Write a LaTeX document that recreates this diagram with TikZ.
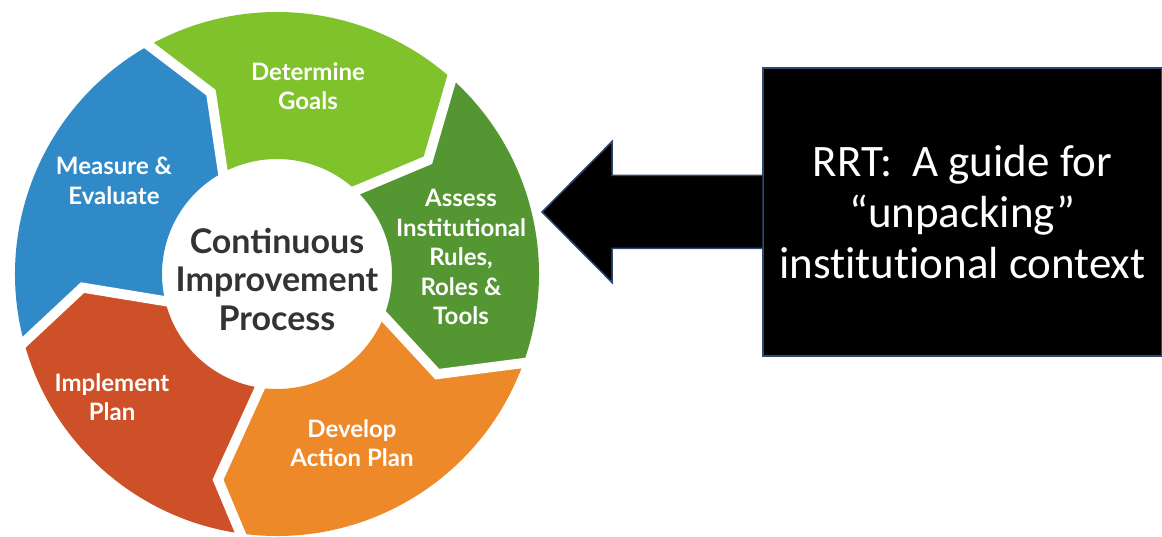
\documentclass[tikz,border=0pt]{standalone}
\usepackage{fontspec}
\setmainfont{Lato}
\newfontfamily\guidefont{Carlito}[Ligatures=NoCommon]
\usepackage{tikz}
\usetikzlibrary{positioning}

\definecolor{measblue}{HTML}{308AC8}
\definecolor{goalgreen}{HTML}{80C22B}
\definecolor{assessgreen}{HTML}{549632}
\definecolor{devorange}{HTML}{EE892A}
\definecolor{implred}{HTML}{CD5028}
\definecolor{hubgray}{HTML}{333333}
\definecolor{guideedge}{HTML}{2E4A6E}

\tikzset{
  gapline/.style={white, line width=10pt, miter limit=20},
  seglabel/.style={text=white, align=center, font=\bfseries\fontsize{24}{29.5}\selectfont},
  hublabel/.style={text=hubgray, align=center, font=\bfseries\fontsize{34}{38.5}\selectfont},
  guidebox/.style={fill=black, draw=guideedge, line width=1.5pt, text=white, align=center,
    minimum width=399pt, minimum height=288pt, inner sep=0pt,
    font=\guidefont\fontsize{45}{51}\selectfont},
  guidearrow/.style={fill=black, draw=guideedge, line width=1.5pt}
}

\begin{document}
\begin{tikzpicture}[x=1pt, y=1pt]
\fill[white] (0,0) rectangle (1162,536);
\useasboundingbox (0,0) rectangle (1162,536);

\begin{scope}[shift={(277,262)}]
% points of the chevrons between the arrows
\foreach \n/\v/\r in {1/184/195, 2/110/193, 3/37/189, 4/-32/189, 5/-106/214, 6/-176/195}
  \coordinate (v\n) at (\v:\r);
% the five arrows of the ring, clockwise
\foreach \i/\j/\a/\b/\col in {1/2/196/120/measblue, 2/3/120/49/goalgreen, 3/4/49/-19/assessgreen,
    4/5/-19/-97/devorange, 5/6/-97/-164/implred}{
  \fill[\col] (\a:262) arc[start angle=\a, end angle=\b, radius=262pt]
    -- (v\j) -- (\b:115) arc[start angle=\b, end angle=\a, radius=115pt]
    -- (v\i) -- cycle;
}
% white cuts between the arrows
\foreach \n/\t in {2/120, 3/49, 4/-19, 5/-97, 6/-164}
  \draw[gapline] (\t:270) -- (v\n) -- (\t:105);
\end{scope}

\node[seglabel] (goals) at (308,450) {Determine\\Goals};
\node[seglabel] (assess) at (461,279) {Assess\\Institutional\\Rules,\\Roles \&\\Tools};
\node[seglabel] (develop) at (352,93) {Develop\\Action Plan};
\node[seglabel] (implement) at (112,139) {Implement\\Plan};
\node[seglabel] (measure) at (114,355) {Measure \&\\Evaluate};
\node[hublabel] (hub) at (277,257) {Continuous\\Improvement\\Process};

% box and its arrow
\node[guidebox] (guide) at (962.5,324) {RRT:~ A guide for\\“unpacking”\\institutional context};
\coordinate (tip) at (542,324);
\filldraw[guidearrow] ([yshift=36.5pt]guide.west) -| ([shift={(70pt,70.5pt)}]tip) -- (tip)
  -- ([shift={(70pt,-70.5pt)}]tip) |- ([yshift=-36.5pt]guide.west);

\end{tikzpicture}
\end{document}
